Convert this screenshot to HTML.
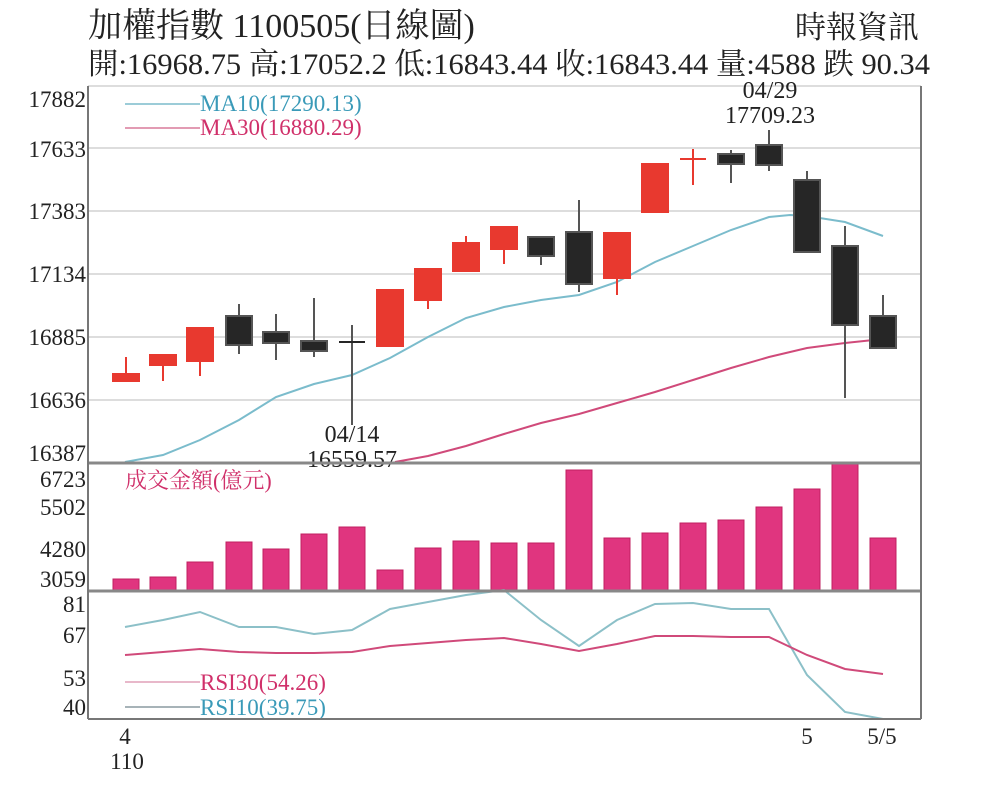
<!DOCTYPE html>
<html><head><meta charset="utf-8"><style>
body{margin:0;background:#fff;width:1000px;height:801px;overflow:hidden}
svg text{font-family:"Liberation Serif","Noto Serif CJK SC","Noto Sans CJK TC",serif}
</style></head><body>
<svg width="1000" height="801" viewBox="0 0 1000 801">
<text x="88" y="37" font-size="34" fill="#222">加權指數 1100505(日線圖)</text>
<text x="795" y="38" font-size="31" fill="#222">時報資訊</text>
<text x="88" y="74" font-size="30" fill="#222" textLength="842" lengthAdjust="spacingAndGlyphs">開:16968.75 高:17052.2 低:16843.44 收:16843.44 量:4588 跌 90.34</text>
<g stroke="#ddd" stroke-width="2">
<line x1="88" y1="86" x2="921" y2="86"/><line x1="88" y1="148" x2="921" y2="148"/><line x1="88" y1="211" x2="921" y2="211"/><line x1="88" y1="274" x2="921" y2="274"/><line x1="88" y1="337" x2="921" y2="337"/><line x1="88" y1="400" x2="921" y2="400"/>
</g>
<g font-size="23" fill="#222" text-anchor="end">
<text x="86" y="107">17882</text><text x="86" y="157">17633</text><text x="86" y="219">17383</text><text x="86" y="282">17134</text><text x="86" y="345">16885</text><text x="86" y="408">16636</text><text x="86" y="461">16387</text>
<text x="86" y="487">6723</text><text x="86" y="515">5502</text><text x="86" y="557">4280</text><text x="86" y="587">3059</text>
<text x="86" y="612">81</text><text x="86" y="643">67</text><text x="86" y="686">53</text><text x="86" y="715">40</text>
</g>
<line x1="125" y1="104" x2="200" y2="104" stroke="#7bbccc" stroke-width="1.5"/>
<text x="200" y="111" font-size="23" fill="#3a9ab8">MA10(17290.13)</text>
<line x1="125" y1="128" x2="200" y2="128" stroke="#d87a9a" stroke-width="1.5"/>
<text x="200" y="135" font-size="23" fill="#d0306a">MA30(16880.29)</text>
<g font-size="24" fill="#222" text-anchor="middle">
<text x="770" y="98">04/29</text><text x="770" y="123">17709.23</text>
<text x="352" y="442">04/14</text><text x="352" y="467">16559.57</text>
</g>
<polyline fill="none" stroke="#7bbccc" stroke-width="2" points="125,462 163,455 200,440 239,420 276,397 314,384 352,375 390,358 428,337 466,318 504,307 541,300 579,295 617,282 655,262 693,246 731,230 769,217 790,215 807,216 845,222 883,236"/>
<polyline fill="none" stroke="#d04a7a" stroke-width="2" points="395,462 428,456 466,446 504,434 541,423 579,414 617,403 655,392 693,380 731,368 769,357 807,348 845,343 883,339"/>
<g stroke-width="2">
<g stroke="#e8392f" fill="#e8392f">
<line x1="126" y1="357" x2="126" y2="381"/><rect x="113" y="374" width="26" height="7"/>
<line x1="163" y1="355" x2="163" y2="381"/><rect x="150" y="355" width="26" height="10"/>
<line x1="200" y1="328" x2="200" y2="376"/><rect x="187" y="328" width="26" height="33"/>
<line x1="390" y1="290" x2="390" y2="346"/><rect x="377" y="290" width="26" height="56"/>
<line x1="428" y1="269" x2="428" y2="309"/><rect x="415" y="269" width="26" height="31"/>
<line x1="466" y1="236" x2="466" y2="271"/><rect x="453" y="243" width="26" height="28"/>
<line x1="504" y1="227" x2="504" y2="264"/><rect x="491" y="227" width="26" height="22"/>
<line x1="617" y1="233" x2="617" y2="295"/><rect x="604" y="233" width="26" height="45"/>
<line x1="655" y1="164" x2="655" y2="212"/><rect x="642" y="164" width="26" height="48"/>
<line x1="693" y1="149" x2="693" y2="185"/><line x1="680" y1="159" x2="706" y2="159"/>
</g>
<g stroke="#555" fill="#262626">
<line x1="239" y1="304" x2="239" y2="354"/><rect x="226" y="316" width="26" height="29"/>
<line x1="276" y1="314" x2="276" y2="360"/><rect x="263" y="332" width="26" height="11"/>
<line x1="314" y1="298" x2="314" y2="357"/><rect x="301" y="341" width="26" height="10"/>
<line x1="352" y1="325" x2="352" y2="425"/><line x1="339" y1="342" x2="365" y2="342" stroke="#262626"/>
<line x1="541" y1="237" x2="541" y2="265"/><rect x="528" y="237" width="26" height="19"/>
<line x1="579" y1="200" x2="579" y2="292"/><rect x="566" y="232" width="26" height="52"/>
<line x1="731" y1="150" x2="731" y2="183"/><rect x="718" y="154" width="26" height="10"/>
<line x1="769" y1="130" x2="769" y2="171"/><rect x="756" y="145" width="26" height="20"/>
<line x1="807" y1="171" x2="807" y2="252"/><rect x="794" y="180" width="26" height="72"/>
<line x1="845" y1="226" x2="845" y2="398"/><rect x="832" y="246" width="26" height="79"/>
<line x1="883" y1="295" x2="883" y2="348"/><rect x="870" y="316" width="26" height="32"/>
</g>
</g>
<text x="125" y="488" font-size="22" fill="#d0306a">成交金額(億元)</text>
<g fill="#e0357f" stroke="#c02060" stroke-width="1">
<rect x="113" y="579" width="26" height="12"/><rect x="150" y="577" width="26" height="14"/><rect x="187" y="562" width="26" height="29"/><rect x="226" y="542" width="26" height="49"/><rect x="263" y="549" width="26" height="42"/><rect x="301" y="534" width="26" height="57"/><rect x="339" y="527" width="26" height="64"/><rect x="377" y="570" width="26" height="21"/><rect x="415" y="548" width="26" height="43"/><rect x="453" y="541" width="26" height="50"/><rect x="491" y="543" width="26" height="48"/><rect x="528" y="543" width="26" height="48"/><rect x="566" y="470" width="26" height="121"/><rect x="604" y="538" width="26" height="53"/><rect x="642" y="533" width="26" height="58"/><rect x="680" y="523" width="26" height="68"/><rect x="718" y="520" width="26" height="71"/><rect x="756" y="507" width="26" height="84"/><rect x="794" y="489" width="26" height="102"/><rect x="832" y="462" width="26" height="129"/><rect x="870" y="538" width="26" height="53"/>
</g>
<polyline fill="none" stroke="#8cc0c8" stroke-width="2" points="125,627 163,620 200,612 239,627 276,627 314,634 352,630 390,609 428,602 466,595 504,590 541,620 579,646 617,620 655,604 693,603 731,609 769,609 807,675 845,712 883,719"/>
<polyline fill="none" stroke="#d04a7a" stroke-width="2" points="125,655 163,652 200,649 239,652 276,653 314,653 352,652 390,646 428,643 466,640 504,638 541,644 579,651 617,644 655,636 693,636 731,637 769,637 807,655 845,669 883,674"/>
<line x1="125" y1="682" x2="200" y2="682" stroke="#e0a0b8" stroke-width="1.5"/>
<text x="200" y="690" font-size="23" fill="#d0306a">RSI30(54.26)</text>
<line x1="125" y1="707" x2="200" y2="707" stroke="#8a9aa0" stroke-width="1.5"/>
<text x="200" y="715" font-size="23" fill="#3a9ab8">RSI10(39.75)</text>
<g stroke="#888" stroke-width="3" fill="none">
<line x1="88" y1="463" x2="921" y2="463"/><line x1="88" y1="591" x2="921" y2="591"/>
</g>
<g stroke="#777" stroke-width="2" fill="none">
<line x1="88" y1="86" x2="88" y2="719"/><line x1="921" y1="86" x2="921" y2="719"/><line x1="88" y1="719" x2="921" y2="719"/>
</g>
<g font-size="23" fill="#222" text-anchor="middle">
<text x="125" y="744">4</text><text x="127" y="769">110</text><text x="807" y="744">5</text><text x="882" y="744">5/5</text>
</g>
</svg>
</body></html>
